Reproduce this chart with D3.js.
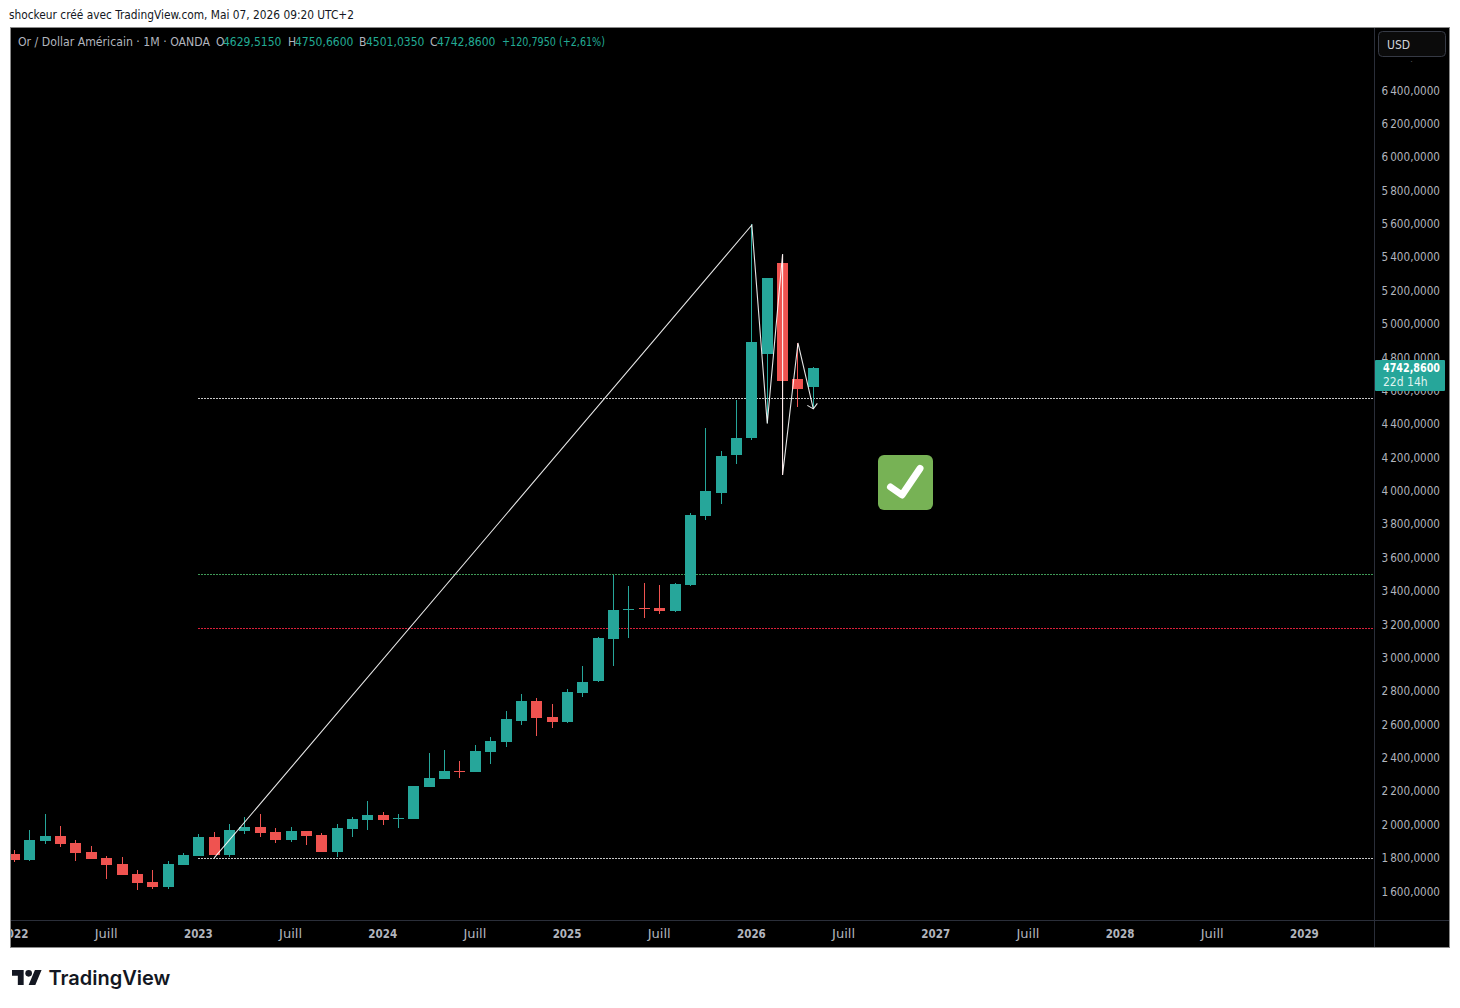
<!DOCTYPE html>
<html>
<head>
<meta charset="utf-8">
<script src="https://cdn.jsdelivr.net/npm/d3@7"></script>
<style>
  body { margin: 0; background: #fff; }
  svg { display: block; }
  text { font-family: "DejaVu Sans Condensed", "DejaVu Sans", sans-serif; font-stretch: condensed; }
</style>
</head>
<body>
<div id="chart"></div>
<script>
// monthly candles, first one is jan 2022
const opens = [1831,1795,1909,1939,1897,1843,1807,1771,1711,1663,1633,1765,1819,1933,1825,1969,1993,1963,1915,1969,1945,1843,1981,2035,2065,2044,2041,2232,2280,2328,2322,2442,2502,2628,2748,2652,2622,2796,2868,3119,3293,3305,3305,3287,3442,3856,3994,4222,4323,4827,5372,4677,4629.515];
const highs = [1855,1975,2071,1999,1915,1879,1819,1813,1735,1735,1789,1837,1951,1963,2011,2053,2071,1987,1993,1969,1957,2011,2053,2148,2083,2071,2238,2436,2454,2388,2484,2532,2688,2790,2766,2730,2820,2957,3131,3502,3436,3454,3442,3454,3874,4383,4246,4551,5606,5282,5420,4893,4750.66];
const lows = [1783,1789,1891,1873,1789,1801,1681,1705,1615,1621,1621,1765,1819,1825,1813,1951,1933,1897,1903,1885,1843,1813,1933,1975,2005,1987,2041,2232,2280,2286,2322,2370,2472,2604,2538,2586,2616,2772,2862,2957,3125,3245,3269,3281,3436,3832,3928,4168,4312,4413,4102,4509,4501.035];
const closes = [1795,1915,1939,1891,1837,1801,1765,1705,1657,1633,1771,1825,1933,1825,1975,1993,1957,1915,1969,1939,1843,1987,2041,2065,2035,2047,2238,2286,2328,2325,2448,2508,2640,2748,2646,2622,2802,2862,3125,3293,3296,3301,3287,3448,3862,4006,4216,4323,4899,5282,4665,4617,4742.86];

const priceTicks = [1600,1800,2000,2200,2400,2600,2800,3000,3200,3400,3600,3800,4000,4200,4400,4600,4800,5000,5200,5400,5600,5800,6000,6200,6400,6600];
const timeTicks = [0,6,12,18,24,30,36,42,48,54,60,66,72,78,84];
const timeLabels = ["2022","Juill","2023","Juill","2024","Juill","2025","Juill","2026","Juill","2027","Juill","2028","Juill","2029"];

// drawings on the chart
const zigzagMonths = [13,48,49,50,50,51,52];
const zigzagPrices = [1807,5600,4410,5426,4102,4893,4498];
const levelPrices = [4560,3505,3182,1806];
const levelColors = ["#c8c8c8","#3f9a57","#d8203a","#c8c8c8"];
const levelStart = 12;

const legendParts = [
  ["Or / Dollar Américain · 1M · OANDA", 18, "#b2b5be", 192],
  ["O", 216, "#b2b5be"], ["4629,5150", 223, "#22ab94"],
  ["H", 288, "#b2b5be"], ["4750,6600", 295, "#22ab94"],
  ["B", 359, "#b2b5be"], ["4501,0350", 366, "#22ab94"],
  ["C", 430, "#b2b5be"], ["4742,8600", 437, "#22ab94"],
  ["+120,7950 (+2,61%)", 502, "#22ab94", 103],
];

const up = "#26a69a", down = "#ef5350";
const W = 1460, H = 1008;
const plotLeft = 11, plotRight = 1374, plotTop = 28, plotBottom = 920, frameBottom = 947, frameRight = 1449;

const candles = opens.map((o, i) => ({ i, o, h: highs[i], l: lows[i], c: closes[i] }));

const x = d3.scaleLinear().domain([0, 84]).range([14, 1304.4]);
const y = d3.scaleLinear().domain([1600, 6400]).range([892.5, 91.5]);

const svg = d3.select("#chart").append("svg").attr("width", W).attr("height", H);

// header line
svg.append("text").attr("x", 9).attr("y", 19).attr("font-size", 11.8).attr("fill", "#131722")
  .text("shockeur créé avec TradingView.com, Mai 07, 2026 09:20 UTC+2");

// chart frame
svg.append("rect").attr("x", 10.5).attr("y", 27.5).attr("width", frameRight - 10).attr("height", frameBottom - 27)
  .attr("fill", "#000").attr("stroke", "#8a8a8a").attr("stroke-width", 1);

svg.append("clipPath").attr("id", "plot").append("rect")
  .attr("x", plotLeft).attr("y", plotTop).attr("width", plotRight - plotLeft).attr("height", plotBottom - plotTop);
svg.append("clipPath").attr("id", "timeClip").append("rect")
  .attr("x", plotLeft).attr("y", plotBottom).attr("width", plotRight - plotLeft).attr("height", frameBottom - plotBottom);

// separators
svg.append("line").attr("x1", plotRight + 0.5).attr("x2", plotRight + 0.5).attr("y1", plotTop).attr("y2", frameBottom).attr("stroke", "#2a2e39");
svg.append("line").attr("x1", plotLeft).attr("x2", frameRight).attr("y1", plotBottom + 0.5).attr("y2", plotBottom + 0.5).attr("stroke", "#2a2e39");

// price axis
const fr = d3.formatLocale({ decimal: ",", thousands: "\u2009", grouping: [3], currency: ["", ""] });
const yAxis = d3.axisRight(y).tickValues(priceTicks).tickSize(0).tickFormat(fr.format(",.4f"));
const yG = svg.append("g").attr("transform", `translate(1440,0)`).call(yAxis);
yG.select(".domain").remove();
yG.selectAll("text").attr("x", 0).attr("dy", "0.22em").attr("text-anchor", "end")
  .attr("font-size", 11.6).attr("fill", "#b2b5be")
  .style("font-family", '"DejaVu Sans Condensed", "DejaVu Sans", sans-serif');

// time axis
const xAxis = d3.axisBottom(x).tickValues(timeTicks).tickSize(0).tickFormat((d, i) => timeLabels[i]);
const xG = svg.append("g").attr("clip-path", "url(#timeClip)")
  .append("g").attr("transform", `translate(-0.5,${plotBottom})`).call(xAxis);
xG.select(".domain").remove();
xG.selectAll("text").attr("y", 18).attr("dy", 0).attr("fill", "#b2b5be")
  .attr("font-size", (d, i) => timeLabels[i] === "Juill" ? 12 : 11.5)
  .attr("font-weight", (d, i) => timeLabels[i] === "Juill" ? 400 : 700)
  .attr("textLength", (d, i) => timeLabels[i] === "Juill" ? 23 : null)
  .attr("lengthAdjust", "spacingAndGlyphs")
  .style("font-family", '"DejaVu Sans Condensed", "DejaVu Sans", sans-serif');

const plot = svg.append("g").attr("clip-path", "url(#plot)");

// horizontal levels
plot.selectAll(".level").data(levelPrices).join("line").attr("class", "level")
  .attr("x1", Math.round(x(levelStart))).attr("x2", plotRight)
  .attr("y1", d => Math.floor(y(d)) + 0.5).attr("y2", d => Math.floor(y(d)) + 0.5)
  .attr("stroke", (d, i) => levelColors[i]).attr("stroke-width", 1).attr("stroke-dasharray", "2 1")
  .attr("shape-rendering", "crispEdges");

// candles
const candle = plot.selectAll(".candle").data(candles).join("g").attr("class", "candle");
candle.append("rect")
  .attr("x", d => Math.round(x(d.i)))
  .attr("width", 1)
  .attr("y", d => Math.round(y(d.h)))
  .attr("height", d => Math.max(1, Math.round(y(d.l)) - Math.round(y(d.h))))
  .attr("fill", d => d.c >= d.o ? up : down);
candle.append("rect")
  .attr("x", d => Math.round(x(d.i)) - 5)
  .attr("width", 11)
  .attr("y", d => Math.round(y(Math.max(d.o, d.c))))
  .attr("height", d => Math.max(1, Math.round(y(Math.min(d.o, d.c))) - Math.round(y(Math.max(d.o, d.c)))))
  .attr("fill", d => d.c >= d.o ? up : down);

// zigzag arrow drawn by hand on the chart
const zigzagPts = zigzagMonths.map((m, i) => [x(m) + 0.5, y(zigzagPrices[i])]);
plot.append("path").attr("d", d3.line()(zigzagPts)).attr("fill", "none")
  .attr("stroke", "#fff").attr("stroke-opacity", 0.9).attr("stroke-width", 1.1);
const tip = zigzagPts[zigzagPts.length - 1];
plot.append("path")
  .attr("d", `M${tip[0] - 6},${tip[1] - 3.5}L${tip[0]},${tip[1]}L${tip[0] + 4},${tip[1] - 5.5}`)
  .attr("fill", "none").attr("stroke", "#fff").attr("stroke-opacity", 0.9).attr("stroke-width", 1.1);

// legend row
svg.selectAll(".legend").data(legendParts).join("text").attr("class", "legend")
  .attr("x", d => d[1]).attr("y", 46).attr("font-size", 12).attr("fill", d => d[2])
  .attr("textLength", d => d[3] || null).attr("lengthAdjust", "spacingAndGlyphs").text(d => d[0]);

// last price box
svg.append("rect").attr("x", 1375).attr("y", 360).attr("width", 70).attr("height", 31).attr("rx", 1).attr("fill", up);
svg.append("text").attr("x", 1383).attr("y", 372).attr("font-size", 11.6).attr("textLength", 57).attr("lengthAdjust", "spacingAndGlyphs")
  .attr("font-weight", 700).attr("fill", "#fff").text("4742,8600");
svg.append("text").attr("x", 1383).attr("y", 386).attr("font-size", 12).attr("fill", "#dff3f0").text("22d 14h");

// currency button, the 6 600 label slides under it
svg.append("rect").attr("x", 1376).attr("y", 28).attr("width", 73).attr("height", 33.5).attr("fill", "#000");
svg.append("rect").attr("x", 1378.5).attr("y", 31.5).attr("width", 67).attr("height", 25).attr("rx", 4)
  .attr("fill", "#0b0b0b").attr("stroke", "#363a45");
svg.append("text").attr("x", 1387).attr("y", 49).attr("font-size", 12).attr("font-weight", 400)
  .attr("fill", "#d1d4dc").text("USD");

// check mark emoji
svg.append("rect").attr("x", 878).attr("y", 455).attr("width", 55).attr("height", 55).attr("rx", 6).attr("fill", "#77b255");
svg.append("path").attr("d", "M890.5,487L902,495L920,468.5").attr("fill", "none").attr("stroke", "#fff")
  .attr("stroke-width", 7).attr("stroke-linecap", "round").attr("stroke-linejoin", "round");

// logo
const logo = svg.append("g").attr("transform", "translate(12,966.7) scale(0.833)").attr("fill", "#131722");
logo.append("path").attr("d", "M14 22H7V11H0V4h14v18zM28 22h-8l7.5-18h8L28 22z");
logo.append("circle").attr("cx", 20).attr("cy", 8).attr("r", 4);
svg.append("text").attr("x", 48.5).attr("y", 985).attr("font-size", 20).attr("font-weight", 600)
  .attr("fill", "#131722").style("font-family", "Inter, sans-serif").style("font-stretch", "normal").text("TradingView");
</script>
</body>
</html>
